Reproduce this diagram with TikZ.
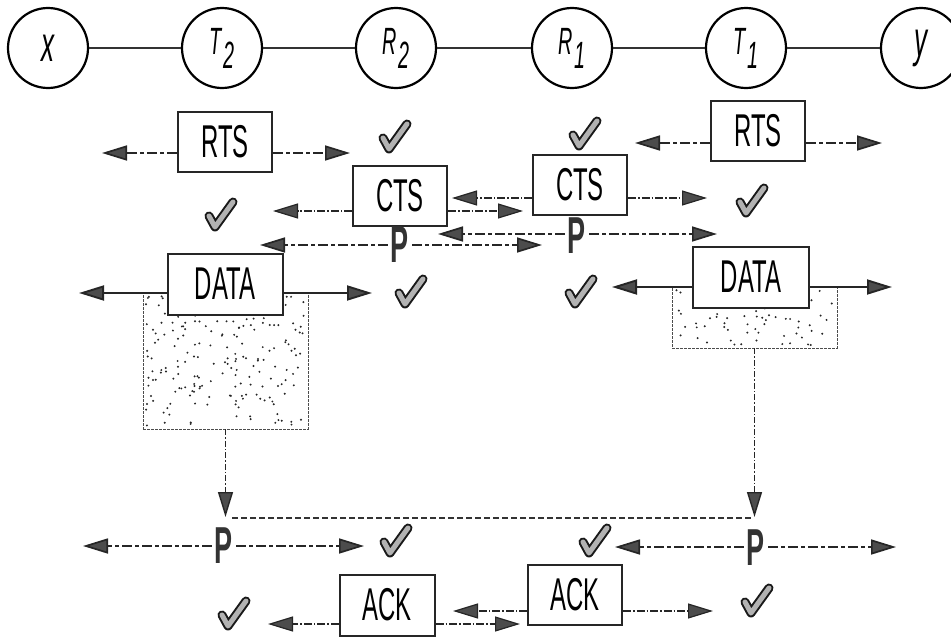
\documentclass[tikz,border=0pt]{standalone}
\usepackage{fontspec}
\setmainfont{Liberation Sans}
\newfontfamily\narrowsans{Liberation Sans}[FakeStretch=0.52]
\usetikzlibrary{arrows.meta}

\tikzset{
  station/.style={circle, draw=black, line width=2.2pt, fill=white, minimum size=80pt,
    inner sep=0pt, font=\narrowsans\itshape\fontsize{38}{38}\selectfont},
  endstation/.style={station, font=\narrowsans\itshape\fontsize{50}{50}\selectfont},
  link/.style={line width=1.4pt, black!80},
  msgbox/.style={rectangle, draw=black!85, line width=2pt, fill=white,
    minimum width=94pt, minimum height=60pt, inner sep=0pt,
    font=\narrowsans\fontsize{46}{46}\selectfont},
  pmark/.style={inner sep=3pt, text=black!80,
    font=\narrowsans\bfseries\fontsize{52}{52}\selectfont},
  headtip/.style={-{Triangle[length=25pt,width=15pt,fill=black!70]}},
  rtsflow/.style={headtip, line width=1.7pt, black!85,
    dash pattern=on 10pt off 3pt on 4pt off 3pt},
  ctsflow/.style={headtip, line width=1.2pt, black!85,
    dash pattern=on 8pt off 2pt on 1.5pt off 2pt},
  dataflow/.style={headtip, line width=1.9pt, black!85},
  pflow/.style={rtsflow},
  ackflow/.style={ctsflow},
  dropflow/.style={headtip, line width=1.4pt, black!85,
    dash pattern=on 6pt off 2pt on 1.5pt off 2pt},
  joinline/.style={line width=1.8pt, black!80, dash pattern=on 6pt off 3pt},
  buffer/.style={rectangle, draw=black!70, line width=0.8pt,
    dash pattern=on 3pt off 1pt, inner sep=0pt},
  tickmark/.pic={
    \draw[line width=9pt, black!90, line cap=round, line join=round]
      (-11,1) -- (-5,12) -- (13,-13);
    \draw[line width=5pt, black!30, line cap=round, line join=round]
      (-11,1) -- (-5,12) -- (13,-13);
  }
}

\begin{document}
\begin{tikzpicture}[x=1pt, y=-1pt]
\useasboundingbox (0,0) rectangle (951,637);
\clip (0,0) rectangle (951,637);

% chain of stations
\node[endstation] (x)  at (48,48)  {x};
\node[station]    (T2) at (222,48) {T\kern1pt\raisebox{-14pt}{2}};
\node[station]    (R2) at (396,48) {R\kern1pt\raisebox{-14pt}{2}};
\node[station]    (R1) at (572,48) {R\kern1pt\raisebox{-14pt}{1}};
\node[station]    (T1) at (746,48) {T\kern1pt\raisebox{-14pt}{1}};
\node[endstation] (y)  at (921,48) {y};
\draw[link] (x) -- (T2);
\draw[link] (T2) -- (R2);
\draw[link] (R2) -- (R1);
\draw[link] (R1) -- (T1);
\draw[link] (T1) -- (y);

% stippled buffers under the DATA frames
\pgfmathsetseed{11}
\foreach \i in {1,...,200} {
  \pgfmathsetmacro\dx{146+159*rnd}
  \pgfmathsetmacro\dy{296+130*rnd}
  \fill[black!85] (\dx,\dy) circle (1.1pt);
}
\foreach \i in {1,...,85} {
  \pgfmathsetmacro\dx{675+159*rnd}
  \pgfmathsetmacro\dy{290+55*rnd}
  \fill[black!85] (\dx,\dy) circle (1.1pt);
}
\node[buffer, minimum width=165pt, minimum height=136pt] (bufL) at (225.5,361) {};
\node[buffer, minimum width=165pt, minimum height=61pt] (bufR) at (754.5,317.5) {};

% frames
\node[msgbox] (rtsL) at (225,142) {RTS};
\node[msgbox] (rtsR) at (758,131) {RTS};
\node[msgbox] (ctsL) at (400,196) {CTS};
\node[msgbox] (ctsR) at (580,185) {CTS};
\node[msgbox, minimum width=115pt, minimum height=61pt] (dataL) at (225,284) {DATA};
\node[msgbox, minimum width=116pt, minimum height=61pt] (dataR) at (751,277) {DATA};
\node[msgbox, minimum width=95pt, minimum height=61pt] (ackL) at (387,605) {ACK};
\node[msgbox] (ackR) at (575,595) {ACK};

% power marks
\node[pmark] (pL)  at (400,245) {P};
\node[pmark] (pR)  at (577,236) {P};
\node[pmark] (pbL) at (224,546) {P};
\node[pmark] (pbR) at (756,548) {P};

% arrow ends
\coordinate (rtsL-w) at (102,153);  \coordinate (rtsL-e) at (350,153);
\coordinate (rtsR-w) at (635,143);  \coordinate (rtsR-e) at (882,143);
\coordinate (ctsL-w) at (273,211);  \coordinate (ctsL-e) at (523,211);
\coordinate (ctsR-w) at (452,198);  \coordinate (ctsR-e) at (707,198);
\coordinate (pL-w)   at (260,245);  \coordinate (pL-e)   at (542,245);
\coordinate (pR-w)   at (438,234);  \coordinate (pR-e)   at (717,234);
\coordinate (dataL-w) at (79,293);  \coordinate (dataL-e) at (372,293);
\coordinate (dataR-w) at (612,287); \coordinate (dataR-e) at (892,287);
\coordinate (dropL) at (225.5,517); \coordinate (dropR) at (754.5,517);
\coordinate (joinL) at (232,518);   \coordinate (joinR) at (752,518);
\coordinate (pbL-w) at (83,546);    \coordinate (pbL-e) at (364,546);
\coordinate (pbR-w) at (615,547);   \coordinate (pbR-e) at (896,547);
\coordinate (ackL-w) at (268,624);  \coordinate (ackL-e) at (520,624);
\coordinate (ackR-w) at (453,611);  \coordinate (ackR-e) at (713,611);

% RTS
\draw[rtsflow] (rtsL.west |- rtsL-w) -- (rtsL-w);
\draw[rtsflow] (rtsL.east |- rtsL-e) -- (rtsL-e);
\draw[rtsflow] (rtsR.west |- rtsR-w) -- (rtsR-w);
\draw[rtsflow] (rtsR.east |- rtsR-e) -- (rtsR-e);
% CTS
\draw[ctsflow] (ctsL.west |- ctsL-w) -- (ctsL-w);
\draw[ctsflow] (ctsL.east |- ctsL-e) -- (ctsL-e);
\draw[ctsflow] (ctsR.west |- ctsR-w) -- (ctsR-w);
\draw[ctsflow] (ctsR.east |- ctsR-e) -- (ctsR-e);
% power announcements
\draw[pflow] (pL.west |- pL-w) -- (pL-w);
\draw[pflow] (pL.east |- pL-e) -- (pL-e);
\draw[pflow] (pR.west |- pR-w) -- (pR-w);
\draw[pflow] (pR.east |- pR-e) -- (pR-e);
% DATA
\draw[dataflow] (dataL.west |- dataL-w) -- (dataL-w);
\draw[dataflow] (dataL.east |- dataL-e) -- (dataL-e);
\draw[dataflow] (dataR.west |- dataR-w) -- (dataR-w);
\draw[dataflow] (dataR.east |- dataR-e) -- (dataR-e);
% end of transmissions
\draw[dropflow] (bufL.south) -- (dropL);
\draw[dropflow] (bufR.south) -- (dropR);
\draw[joinline] (joinL) -- (joinR);
% second power announcements
\draw[pflow] (pbL.west |- pbL-w) -- (pbL-w);
\draw[pflow] (pbL.east |- pbL-e) -- (pbL-e);
\draw[pflow] (pbR.west |- pbR-w) -- (pbR-w);
\draw[pflow] (pbR.east |- pbR-e) -- (pbR-e);
% ACK
\draw[ackflow] (ackL.west |- ackL-w) -- (ackL-w);
\draw[ackflow] (ackL.east |- ackL-e) -- (ackL-e);
\draw[ackflow] (ackR.west |- ackR-w) -- (ackR-w);
\draw[ackflow] (ackR.east |- ackR-e) -- (ackR-e);

% check marks
\pic at (394,137) {tickmark};
\pic at (584,134) {tickmark};
\pic at (220,215) {tickmark};
\pic at (751,201) {tickmark};
\pic at (410,292) {tickmark};
\pic at (580,292) {tickmark};
\pic at (395,541) {tickmark};
\pic at (594,541) {tickmark};
\pic at (233,614) {tickmark};
\pic at (756,601) {tickmark};
\end{tikzpicture}
\end{document}
